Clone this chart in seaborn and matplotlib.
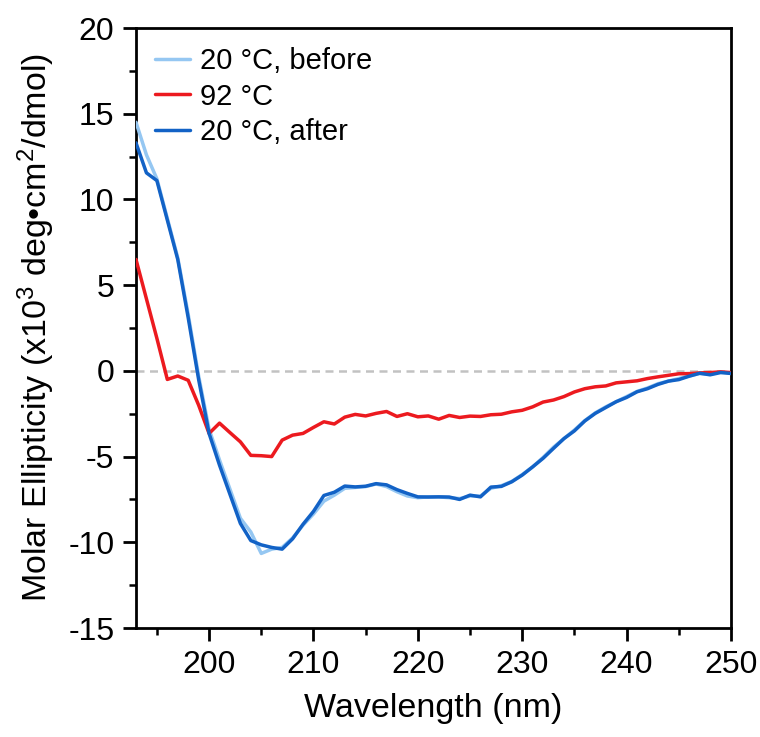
import numpy as np
import pandas as pd
import seaborn as sns
import matplotlib
matplotlib.use("Agg")
import matplotlib.pyplot as plt
from matplotlib.ticker import MultipleLocator

# CD spectra, molar ellipticity in 10^3 deg cm^2 / dmol, 1 nm steps
wavelength = list(range(193, 251))

before_20c = [14.5, 12.6, 11.2, 8.9, 6.6, 3.3, -0.3, -3.4, -5.2, -6.9,
              -8.6, -9.4, -10.65, -10.4, -10.3, -9.75, -9.0, -8.35, -7.6, -7.25,
              -6.85, -6.8, -6.75, -6.6, -6.75, -7.05, -7.3, -7.4, -7.35, -7.35,
              -7.4, -7.45, -7.3, -7.3, -6.85, -6.7, -6.45, -6.05, -5.6, -5.05,
              -4.45, -3.95, -3.45, -2.9, -2.45, -2.1, -1.8, -1.5, -1.2, -1.0,
              -0.75, -0.6, -0.45, -0.3, -0.15, -0.2, -0.05, -0.15]

melt_92c = [6.5, 4.2, 1.9, -0.5, -0.3, -0.55, -2.0, -3.65, -3.05, -3.6,
            -4.14, -4.93, -4.95, -5.0, -4.04, -3.75, -3.65, -3.3, -2.97, -3.1,
            -2.7, -2.54, -2.63, -2.48, -2.37, -2.66, -2.5, -2.68, -2.63, -2.82,
            -2.6, -2.72, -2.64, -2.66, -2.56, -2.53, -2.39, -2.3, -2.1, -1.82,
            -1.7, -1.5, -1.23, -1.04, -0.93, -0.88, -0.7, -0.64, -0.58, -0.45,
            -0.35, -0.26, -0.17, -0.16, -0.12, -0.1, -0.06, -0.1]

after_20c = [13.3, 11.55, 11.1, 8.8, 6.5, 3.1, -0.5, -3.65, -5.5, -7.2,
             -8.9, -9.9, -10.15, -10.3, -10.4, -9.8, -8.95, -8.2, -7.27, -7.08,
             -6.72, -6.77, -6.73, -6.58, -6.65, -6.93, -7.15, -7.35, -7.36, -7.35,
             -7.36, -7.5, -7.25, -7.35, -6.78, -6.74, -6.47, -6.08, -5.6, -5.1,
             -4.52, -3.95, -3.5, -2.92, -2.48, -2.14, -1.8, -1.55, -1.22, -1.04,
             -0.79, -0.6, -0.51, -0.31, -0.14, -0.23, -0.1, -0.15]

series_names = ["20 °C, before", "92 °C", "20 °C, after"]
series_colors = ["#95c7f2", "#ec1a1f", "#1262c6"]

frames = []
for name, vals in zip(series_names, [before_20c, melt_92c, after_20c]):
    frames.append(pd.DataFrame({"Wavelength": wavelength,
                                "Ellipticity": vals,
                                "Sample": name}))
df = pd.concat(frames, ignore_index=True)

sns.set_style("ticks")
plt.rcParams["font.family"] = ["Liberation Sans", "DejaVu Sans"]
plt.rcParams["mathtext.fontset"] = "custom"
plt.rcParams["mathtext.rm"] = "Liberation Sans"
plt.rcParams["mathtext.it"] = "Liberation Sans"
plt.rcParams["axes.unicode_minus"] = False
plt.rcParams["text.color"] = "black"
plt.rcParams["axes.labelcolor"] = "black"
plt.rcParams["xtick.color"] = "black"
plt.rcParams["ytick.color"] = "black"

fig = plt.figure(figsize=(7.6, 7.37), dpi=100)
ax = fig.add_axes([136 / 760, 1 - 628 / 737, (731 - 136) / 760, 600 / 737])

ax.axhline(0, color="#c2c2c2", lw=1.8, ls=(0, (3.2, 2.2)), zorder=1)

sns.lineplot(data=df, x="Wavelength", y="Ellipticity", hue="Sample",
             hue_order=series_names, palette=series_colors, lw=2.5,
             ax=ax, legend=False, zorder=3)

ax.set_xlim(193, 250)
ax.set_ylim(-15, 20)
ax.xaxis.set_major_locator(MultipleLocator(10))
ax.xaxis.set_minor_locator(MultipleLocator(5))
ax.yaxis.set_major_locator(MultipleLocator(5))
ax.yaxis.set_minor_locator(MultipleLocator(2.5))
ax.set_xticks(range(200, 251, 10))

for s in ax.spines.values():
    s.set_linewidth(2.0)
    s.set_color("black")
ax.tick_params(which="major", direction="out", length=9.5, width=2.0,
               labelsize=23, pad=6, top=False, right=False)
ax.tick_params(which="minor", direction="out", length=5, width=1.8,
               top=False, right=False)

ax.set_xlabel("Wavelength (nm)", fontsize=24.5, labelpad=10)
ax.set_ylabel("Molar Ellipticity (x10$^3$ deg\u2022cm$^2$/dmol)", fontsize=24.5,
              labelpad=8)

handles = [plt.Line2D([], [], color=c, lw=2.5) for c in series_colors]
ax.legend(handles, series_names, loc="upper left", frameon=False,
          fontsize=21, handlelength=1.2, handletextpad=0.35,
          labelspacing=0.26, borderaxespad=0.3, borderpad=0.35,
          bbox_to_anchor=(0.0, 1.0))

fig.savefig("out.png", dpi=100)
